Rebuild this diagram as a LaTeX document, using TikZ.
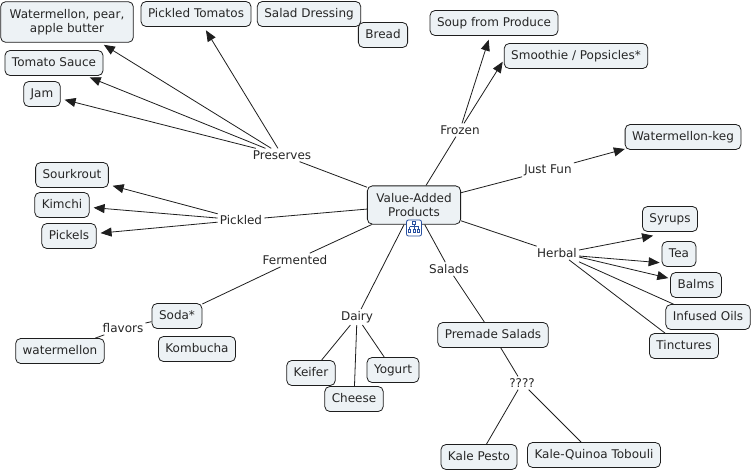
\documentclass[tikz,border=0pt]{standalone}
\usepackage{fontspec}
\setmainfont{DejaVu Sans}
\usetikzlibrary{arrows.meta,calc}
\definecolor{cfill}{RGB}{237,242,245}
\definecolor{cline}{RGB}{30,30,30}
\definecolor{iconblue}{RGB}{40,80,160}
\begin{document}
\begin{tikzpicture}[x=1pt,y=-1pt,
  every node/.style={font=\fontsize{12}{14}\selectfont, text=black!85},
  concept/.style={draw=cline, fill=cfill, rounded corners=5pt, line width=0.8pt,
    inner xsep=7pt, inner ysep=6.5pt, text height=9pt, text depth=3pt},
  concept2/.style={draw=cline, fill=cfill, rounded corners=5pt, line width=0.8pt,
    inner xsep=9pt, inner ysep=7.5pt, align=center},
  link/.style={inner sep=2pt, fill=white},
  conn/.style={draw=cline, line width=0.8pt},
  arr/.style={conn, -{Triangle[length=11pt,width=9pt]}, shorten >=4pt}
]
\path[use as bounding box, fill=white] (0,0) rectangle (754,472);

% concepts
\node[concept2] (vap) at (414,205) {Value-Added\\Products};
\node[concept2] (wpab) at (67,22) {Watermellon, pear,\\apple butter};
\node[concept] (ptom) at (196,14) {Pickled Tomatos};
\node[concept] (sdress) at (309,14) {Salad Dressing};
\node[concept] (bread) at (383,35) {Bread};
\node[concept] (tsauce) at (54,63) {Tomato Sauce};
\node[concept] (jam) at (42,94) {Jam};
\node[concept] (sour) at (72,175) {Sourkrout};
\node[concept] (kimchi) at (62,205) {Kimchi};
\node[concept] (pickels) at (69,236) {Pickels};
\node[concept] (soda) at (177,316) {Soda*};
\node[concept] (komb) at (197,349) {Kombucha};
\node[concept] (wmel) at (60,351) {watermellon};
\node[concept] (keifer) at (311,373) {Keifer};
\node[concept] (cheese) at (354,399) {Cheese};
\node[concept] (yogurt) at (393,370) {Yogurt};
\node[concept] (soup) at (494,23) {Soup from Produce};
\node[concept] (smooth) at (576,56) {Smoothie / Popsicles*};
\node[concept] (keg) at (683,137) {Watermellon-keg};
\node[concept] (syrups) at (670,219) {Syrups};
\node[concept] (tea) at (679,254) {Tea};
\node[concept] (balms) at (696,285) {Balms};
\node[concept] (oils) at (708,317) {Infused Oils};
\node[concept] (tinct) at (684,346) {Tinctures};
\node[concept] (premade) at (493,335) {Premade Salads};
\node[concept] (pesto) at (479,457) {Kale Pesto};
\node[concept] (tobouli) at (594,455) {Kale-Quinoa Tobouli};

% linking phrases
\node[link] (preserves) at (282,155) {Preserves};
\node[link] (pickled) at (241,220) {Pickled};
\node[link] (fermented) at (295,260) {Fermented};
\node[link] (flavors) at (123,328) {flavors};
\node[link] (dairy) at (357,317) {Dairy};
\node[link] (frozen) at (460,130) {Frozen};
\node[link] (justfun) at (548,170) {Just Fun};
\node[link] (herbal) at (557,253) {Herbal};
\node[link] (salads) at (449,269) {Salads};
\node[link] (qqqq) at (522,383) {????};

% connectors from centre
\draw[conn] (vap) -- (preserves);
\draw[conn] (vap) -- (pickled);
\draw[conn] (vap) -- (fermented);
\draw[conn] (vap) -- (dairy);
\draw[conn] (vap) -- (frozen);
\draw[conn] (vap) -- (justfun);
\draw[conn] (vap) -- (herbal);
\draw[conn] (vap) -- (salads);

% preserves
\draw[arr] (preserves) -- (wpab);
\draw[arr] (preserves) -- (ptom);
\draw[arr] (preserves) -- (tsauce);
\draw[arr] (preserves) -- (jam);
% pickled
\draw[arr] (pickled) -- (sour);
\draw[arr] (pickled) -- (kimchi);
\draw[arr] (pickled) -- (pickels);
% fermented
\draw[conn] (fermented) -- (soda);
\draw[conn] (soda) -- (flavors);
\draw[conn] (flavors) -- (wmel);
% dairy
\draw[conn] (dairy) -- (keifer);
\draw[conn] (dairy) -- (cheese);
\draw[conn] (dairy) -- (yogurt);
% frozen
\draw[arr] ($(frozen.north)+(2,0)$) -- (soup);
\draw[arr, shorten >=2pt] ($(frozen.north)+(4,0)$) -- ($(smooth.west)+(0,4)$);
% just fun
\draw[arr] (justfun) -- ($(keg.south west)+(4,-2)$);
% herbal
\draw[arr] ($(herbal.east)+(0,-3)$) -- ($(syrups.south west)+(15,3)$);
\draw[arr] ($(herbal.east)+(0,3)$) -- ($(tea.west)+(2,9)$);
\draw[arr] ($(herbal.east)+(0,4)$) -- ($(balms.west)+(2,-6)$);
\draw[conn] ($(herbal.south east)+(0,2)$) -- ($(oils.north west)+(8,0)$);
\draw[conn] ($(herbal.south)+(12,0)$) -- ($(tinct.north west)+(16,0)$);
% salads
\draw[conn] (salads) -- (premade);
\draw[conn] (premade) -- (qqqq);
\draw[conn] (qqqq) -- (pesto);
\draw[conn] (qqqq) -- (tobouli);

% map icon
\node[draw=iconblue, fill=white, rounded corners=2pt, line width=0.8pt,
  minimum width=15pt, minimum height=16pt, inner sep=0pt] (icon) at (414,228) {};
\begin{scope}[iconblue, line width=0.6pt]
  \draw (412.5,221.5) rectangle (415.5,224.5);
  \draw (414,224.5) -- (414,226.5) (409.5,226.5) -- (418.5,226.5)
        (409.5,226.5) -- (409.5,229) (418.5,226.5) -- (418.5,229) (414,226.5) -- (414,229);
  \draw (408.5,229) rectangle (410.5,232);
  \draw (413,229) rectangle (415,232);
  \draw (417.5,229) rectangle (419.5,232);
\end{scope}
\end{tikzpicture}
\end{document}
